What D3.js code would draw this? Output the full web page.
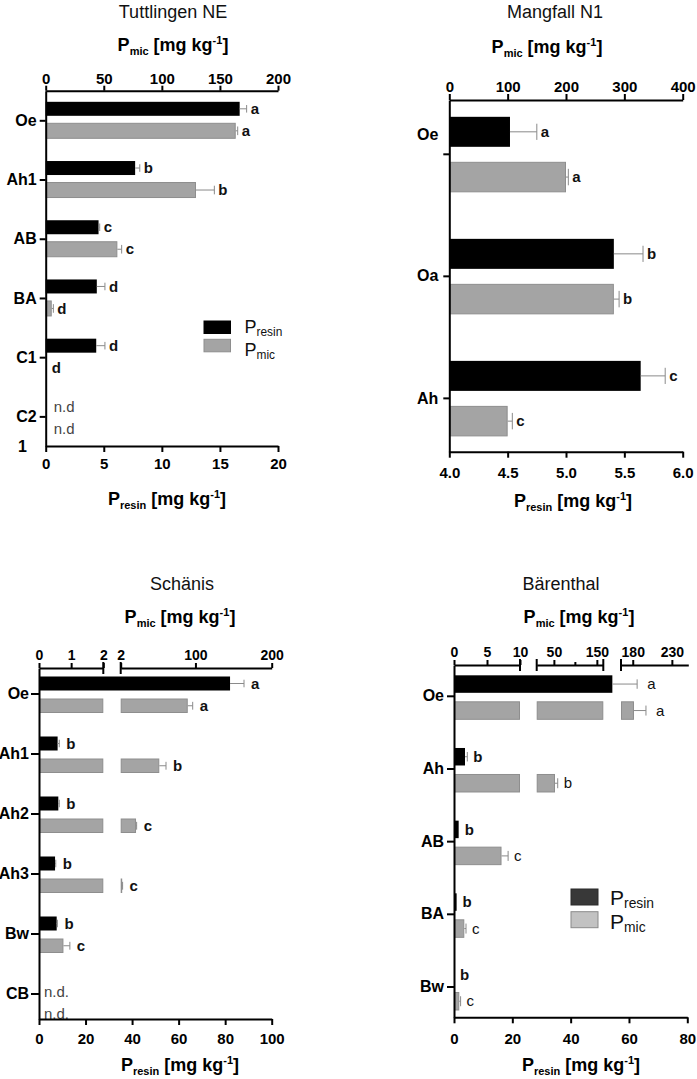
<!DOCTYPE html>
<html><head><meta charset="utf-8">
<script src="https://cdn.jsdelivr.net/npm/d3@7"></script>
<style>
body{margin:0;background:#fff;}
svg{display:block;}
text{font-family:"Liberation Sans",Arial,Helvetica,sans-serif;}
</style></head><body>
<svg id="chart" width="697" height="1079"></svg>
<script>
// ================= DATA =================
// Tuttlingen NE
const tutCategories   = ["Oe","Ah1","AB","BA","C1","C2"];
const tutResin        = [16.7, 7.7, 4.55, 4.4, 4.35, null];
const tutResinSD      = [0.6, 0.4, 0.1, 0.7, 0.75, null];
const tutMic          = [163.6, 129.4, 61.7, 5.2, 0, null];
const tutMicSD        = [1.7, 15.8, 3.7, 1.4, 0, null];
const tutResinLetters = ["a","b","c","d","d","n.d"];
const tutMicLetters   = ["a","b","c","d","d","n.d"];
const tutMicBreaks    = [[0,200]];
const tutMicTicks     = [[0,50,100,150,200]];
const tutResinDomain  = [0,20];
const tutResinTicks   = [0,5,10,15,20];

// Mangfall N1
const manCategories   = ["Oe","Oa","Ah"];
const manResin        = [4.52, 5.41, 5.64];
const manResinSD      = [0.23, 0.25, 0.21];
const manMic          = [200, 282, 100];
const manMicSD        = [4, 9, 8];
const manResinLetters = ["a","b","c"];
const manMicLetters   = ["a","b","c"];
const manMicBreaks    = [[0,400]];
const manMicTicks     = [[0,100,200,300,400]];
const manResinDomain  = [4,6];
const manResinTicks   = [4.0,4.5,5.0,5.5,6.0];

// Schänis
const schCategories   = ["Oe","Ah1","Ah2","Ah3","Bw","CB"];
const schResin        = [82.1, 8.0, 8.3, 6.9, 7.6, null];
const schResinSD      = [6.0, 0.7, 0.4, 0.3, 0.3, null];
const schMic          = [89.9, 52.6, 22.1, 3.5, 0.76, null];
const schMicSD        = [6.5, 8.8, 0.8, 1.0, 0.2, null];
const schResinLetters = ["a","b","b","b","b","n.d."];
const schMicLetters   = ["a","b","c","c","c","n.d."];
const schMicBreaks    = [[0,2],[2,200]];
const schMicTicks     = [[0,1,2],[2,100,200]];
const schResinDomain  = [0,100];
const schResinTicks   = [0,20,40,60,80,100];

// Bärenthal
const barCategories   = ["Oe","Ah","AB","BA","Bw"];
const barResin        = [54.3, 3.77, 1.6, 0.9, 0];
const barResinSD      = [8.5, 0.8, 0, 0, 0];
const barMic          = [181.6, 52.6, 7.2, 1.56, 0.8];
const barMicSD        = [15.3, 6.3, 1.0, 0.26, 0.2];
const barResinLetters = ["a","b","b","b","b"];
const barMicLetters   = ["a","b","c","c","c"];
const barMicBreaks    = [[0,10],[10,165],[165,251]];
const barMicTicks     = [[0,5,10],[50,150],[180,230]];
const barMicMinor     = [[],[100],[]];
const barResinDomain  = [0,80];
const barResinTicks   = [0,20,40,60,80];

// ================= DRAWING =================
const FONT = '"Liberation Sans", Arial, Helvetica, sans-serif';
const svg = d3.select("#chart");

function styleAxis(g, size, weight){
  g.selectAll("path.domain").attr("stroke","#000").attr("stroke-width",2);
  g.selectAll(".tick line").attr("stroke","#000").attr("stroke-width",2);
  g.selectAll(".tick text").attr("fill","#000")
    .style("font-size", size+"px").style("font-weight", weight).style("font-family", FONT);
}

function unitLabel(g, x, y, sub){
  const t = g.append("text").attr("x",x).attr("y",y).attr("text-anchor","middle")
    .style("font-weight","bold").style("font-size","18px").attr("fill","#000");
  t.append("tspan").text("P");
  t.append("tspan").text(sub).style("font-size","11px").attr("dy",4);
  t.append("tspan").text(" [mg kg").style("font-size","18px").attr("dy",-4);
  t.append("tspan").text("-1").style("font-size","11px").attr("dy",-7);
  t.append("tspan").text("]").style("font-size","18px").attr("dy",7);
}

function legend(g, L){
  const items = [
    {sub:"resin", fill:L.legDark, stroke:L.legDarkStroke},
    {sub:"mic", fill:L.legLight, stroke:L.legLightStroke}
  ];
  items.forEach((it,i)=>{
    const yy = L.legY + i*L.legStep;
    g.append("rect").attr("x",L.legX).attr("y",yy).attr("width",L.legW).attr("height",L.legH)
      .attr("fill",it.fill).attr("stroke",it.stroke).attr("stroke-width",1);
    const t = g.append("text").attr("x",L.legX+L.legW+L.legTextGap)
      .attr("y",L.legTextY[i])
      .style("font-size",L.legFont+"px").attr("fill","#111");
    t.append("tspan").text("P");
    t.append("tspan").text(it.sub).style("font-size",(L.legFont*0.66)+"px").attr("dy",3);
  });
}

function drawPanel(d, L){
  const g = svg.append("g");
  const xB = d3.scaleLinear().domain(d.resinDomain).range([L.x0, L.x1]);
  const segs = d.micBreaks.map((dom,i)=>({
    dom, scale: d3.scaleLinear().domain(dom).range(L.segRanges[i]),
    ticks: d.micTicks[i], minor: (d.micMinor||[])[i] || []
  }));
  const y = d3.scalePoint().domain(d.categories).range([L.yTop, L.yBot]).padding(L.pad);

  const rows = d.categories.map((c,i)=>({
    c, cy: y(c),
    resin: d.resin[i], resinSD: d.resinSD[i], resinL: d.resinLetters[i],
    mic: d.mic[i], micSD: d.micSD[i], micL: d.micLetters[i], i
  }));

  const segFor = v => { let s = segs[0]; segs.forEach(sg=>{ if (v > sg.dom[0]) s = sg; }); return s; };

  const bY = r => r.cy + L.black[0], bH = L.black[1]-L.black[0];
  const mY = r => r.cy + L.gray[0],  mH = L.gray[1]-L.gray[0];

  // ---- resin bars (black) ----
  g.selectAll("rect.resin").data(rows.filter(r=>r.resin!=null && r.resin>d.resinDomain[0]))
    .join("rect").attr("class","resin")
    .attr("x", xB(d.resinDomain[0])).attr("y", bY)
    .attr("width", r=>xB(r.resin)-xB(d.resinDomain[0])).attr("height", bH)
    .attr("fill", "#000");

  // ---- mic bars (gray), split over axis breaks ----
  const pieces = rows.filter(r=>r.mic!=null && r.mic>0).flatMap(r =>
    segs.filter(s=>r.mic > s.dom[0]).map(s=>({r, s,
      xa: s.scale(s.dom[0]), xb: s.scale(Math.min(r.mic, s.dom[1]))})));
  g.selectAll("rect.mic").data(pieces).join("rect").attr("class","mic")
    .attr("x", p=>p.xa+0.5).attr("y", p=>mY(p.r)+0.5)
    .attr("width", p=>Math.max(0.5,p.xb-p.xa-1)).attr("height", mH-1)
    .attr("fill","#a4a4a4").attr("stroke","#8e8e8e").attr("stroke-width",1);

  // ---- error bars ----
  const errs = [];
  rows.forEach(r=>{
    if (r.resin!=null && r.resinSD>0){
      errs.push({x1:xB(r.resin), x2:xB(r.resin+r.resinSD), yc:bY(r)+bH/2, h:bH});
    }
    if (r.mic!=null && r.micSD>0){
      const s = segFor(r.mic);
      errs.push({x1:s.scale(r.mic), x2:s.scale(r.mic+r.micSD), yc:mY(r)+mH/2, h:mH});
    }
  });
  const eg = g.append("g").attr("stroke","#8a8a8a").attr("stroke-width",1);
  eg.selectAll("line.eh").data(errs).join("line").attr("class","eh")
    .attr("x1",e=>e.x1).attr("x2",e=>e.x2).attr("y1",e=>e.yc).attr("y2",e=>e.yc);
  eg.selectAll("line.ev").data(errs).join("line").attr("class","ev")
    .attr("x1",e=>e.x2).attr("x2",e=>e.x2).attr("y1",e=>e.yc-e.h*0.27).attr("y2",e=>e.yc+e.h*0.27);

  // ---- letters ----
  const letters = [];
  rows.forEach(r=>{
    const bc = bY(r)+bH/2, mc = mY(r)+mH/2;
    const extra = (L.firstGap && r.i===0) ? L.firstGap : 0;
    if (r.resinL === "n.d" || r.resinL === "n.d."){
      letters.push({t:r.resinL, x:L.x0+L.ndX, y:bc+L.ndShift, nd:true});
    } else if (r.resinL){
      const v = r.resin||d.resinDomain[0];
      const end = xB(v + (r.resinSD||0));
      letters.push({t:r.resinL, x:Math.max(end, L.x0)+L.gap+extra, y:bc, bold:L.letterBold("resin",r.i)});
    }
    if (r.micL === "n.d" || r.micL === "n.d."){
      letters.push({t:r.micL, x:L.x0+L.ndX, y:mc+L.ndShift, nd:true});
    } else if (r.micL){
      const v = r.mic||0;
      const s = segFor(v);
      const end = s.scale(v + (r.micSD||0));
      letters.push({t:r.micL, x:end+L.gap+extra+(v===0?2:0), y:mc, bold:L.letterBold("mic",r.i)});
    }
  });
  g.selectAll("text.letter").data(letters).join("text").attr("class","letter")
    .attr("x",l=>l.x).attr("y",l=>l.y).attr("dy","0.35em")
    .style("font-size",l=>l.nd?"15px":L.letterFont+"px")
    .style("font-weight",l=>l.nd?"normal":(l.bold?"bold":"normal"))
    .attr("fill",l=>l.nd?"#444":"#111")
    .text(l=>l.t);

  // ---- bottom axis (P resin) ----
  const gb = g.append("g").attr("transform",`translate(0,${L.yBot})`)
    .call(d3.axisBottom(xB).tickValues(d.resinTicks).tickSize(6).tickSizeOuter(0)
      .tickPadding(L.bPad).tickFormat(d.resinFormat || d3.format("d")));
  styleAxis(gb, L.bFont, "bold");

  // ---- top axis segments (P mic) ----
  segs.forEach(s=>{
    const gt = g.append("g").attr("transform",`translate(0,${L.yTop})`)
      .call(d3.axisTop(s.scale).tickValues(s.ticks).tickSize(L.tTick).tickSizeOuter(0)
        .tickPadding(L.tPad).tickFormat(d3.format("d")));
    styleAxis(gt, L.tFont, "bold");
    s.minor.forEach(v=>{
      g.append("line").attr("x1",s.scale(v)).attr("x2",s.scale(v))
        .attr("y1",L.yTop).attr("y2",L.yTop-3).attr("stroke","#000").attr("stroke-width",2);
    });
  });
  if (segs.length>1){
    segs.forEach((s,i)=>{
      const ends = [];
      if (i>0) ends.push(s.scale.range()[0]);
      if (i<segs.length-1) ends.push(s.scale.range()[1]);
      ends.forEach(xx=>{
        g.append("line").attr("x1",xx).attr("x2",xx).attr("y1",L.yTop-6).attr("y2",L.yTop+6)
          .attr("stroke","#000").attr("stroke-width",2);
      });
    });
  }

  // ---- left axis (horizons) ----
  const gl = g.append("g").attr("transform",`translate(${L.x0},0)`)
    .call(d3.axisLeft(y).tickSize(L.lTick).tickSizeOuter(0).tickPadding(L.lPad));
  styleAxis(gl, 16, "bold");
  if (L.labelShift){
    gl.selectAll(".tick text").attr("transform", c => `translate(0,${L.labelShift[c]||0})`);
  }

  // ---- titles ----
  g.append("text").attr("x",L.titleX).attr("y",L.titleY).attr("text-anchor","middle")
    .style("font-size","18px").attr("fill","#111").text(d.title);
  unitLabel(g, L.micX, L.micY, "mic");
  unitLabel(g, L.resX, L.resY, "resin");

  if (L.legX) legend(g, L);
  if (L.extra) L.extra(g);
}

// ---- panels ----
drawPanel(
  {title:"Tuttlingen NE", categories:tutCategories, resin:tutResin, resinSD:tutResinSD, mic:tutMic, micSD:tutMicSD,
   resinLetters:tutResinLetters, micLetters:tutMicLetters, micBreaks:tutMicBreaks, micTicks:tutMicTicks,
   resinDomain:tutResinDomain, resinTicks:tutResinTicks},
  {x0:45.7, x1:278, yTop:90.7, yBot:446, pad:0.5, segRanges:[[45.7,278]],
   black:[-18.5,-4.5], gray:[2.5,18.5], gap:4, ndX:8, ndShift:2, letterFont:15,
   letterBold:()=>true,
   bPad:6, bFont:15, tTick:5, tPad:2, tFont:15, lTick:6, lPad:3,
   titleX:173, titleY:18, micX:173, micY:51, resX:167, resY:505,
   legX:204, legY:321, legStep:18.3, legW:26.5, legH:12.5, legTextGap:14, legFont:18,
   legTextY:[332.5, 355.5],
   legDark:"#000", legDarkStroke:"#000", legLight:"#a4a4a4", legLightStroke:"#8e8e8e",
   extra: g => g.append("text").attr("x",22.5).attr("y",452).attr("text-anchor","middle")
      .style("font-size","16px").style("font-weight","bold").text("1")
  });

drawPanel(
  {title:"Mangfall N1", categories:manCategories, resin:manResin, resinSD:manResinSD, mic:manMic, micSD:manMicSD,
   resinLetters:manResinLetters, micLetters:manMicLetters, micBreaks:manMicBreaks, micTicks:manMicTicks,
   resinDomain:manResinDomain, resinTicks:manResinTicks, resinFormat:d3.format(".1f")},
  {x0:449.3, x1:682.7, yTop:100, yBot:451.7, pad:0.441, segRanges:[[449.3,682.7]],
   black:[-37,-7], gray:[8,38.5], gap:4, ndX:8, ndShift:0, letterFont:15,
   letterBold:()=>true,
   bPad:10, bFont:15, tTick:6, tPad:2, tFont:15, lTick:6, lPad:5,
   labelShift:{Oe:-19},
   titleX:555, titleY:18, micX:547, micY:53, resX:573, resY:507
  });

drawPanel(
  {title:"Schänis", categories:schCategories, resin:schResin, resinSD:schResinSD, mic:schMic, micSD:schMicSD,
   resinLetters:schResinLetters, micLetters:schMicLetters, micBreaks:schMicBreaks, micTicks:schMicTicks,
   resinDomain:schResinDomain, resinTicks:schResinTicks},
  {x0:39, x1:271.7, yTop:668, yBot:1019, pad:0.425, segRanges:[[39,103.3],[120.7,271.7]],
   black:[-17,-3], gray:[5,19.5], gap:7, ndX:5, ndShift:8, letterFont:15,
   letterBold:()=>true,
   bPad:8, bFont:15, tTick:5, tPad:3, tFont:14, lTick:8, lPad:2,
   titleX:182, titleY:590, micX:180, micY:623, resX:180, resY:1071
  });

drawPanel(
  {title:"Bärenthal", categories:barCategories, resin:barResin, resinSD:barResinSD, mic:barMic, micSD:barMicSD,
   resinLetters:barResinLetters, micLetters:barMicLetters, micBreaks:barMicBreaks, micTicks:barMicTicks,
   micMinor:barMicMinor, resinDomain:barResinDomain, resinTicks:barResinTicks},
  {x0:454, x1:687.3, yTop:665, yBot:1017.3, pad:0.424, segRanges:[[454,520],[536.7,603.3],[621,688.3]],
   black:[-20.5,-3], gray:[5.5,24], gap:6, firstGap:4, ndX:8, ndShift:0, letterFont:15,
   letterBold:(s,i)=> s==="resin" && i>0,
   bPad:10, bFont:15, tTick:5, tPad:3, tFont:14, lTick:7, lPad:3,
   titleX:561, titleY:590, micX:579, micY:623, resX:581, resY:1071,
   legX:571, legY:889, legStep:22.7, legW:27, legH:16, legTextGap:12, legFont:21,
   legTextY:[905, 929],
   legDark:"#383838", legDarkStroke:"#2a2a2a", legLight:"#c2c2c2", legLightStroke:"#8a8a8a"
  });
</script>
</body></html>
